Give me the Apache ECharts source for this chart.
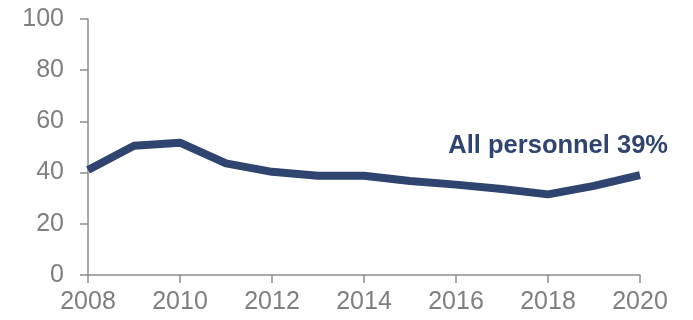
<!DOCTYPE html>
<html>
<head>
<meta charset="utf-8">
<script src="https://cdn.jsdelivr.net/npm/echarts@6/dist/echarts.min.js"></script>
<style>
  html, body { margin: 0; padding: 0; background: #fff; }
  #chart { width: 693px; height: 320px; }
</style>
</head>
<body>
<div id="chart"></div>
<script>
// Share of all personnel, by year (%)
const years = ['2008','2009','2010','2011','2012','2013','2014','2015','2016','2017','2018','2019','2020'];
const allPersonnel = [41, 50.5, 51.7, 43.6, 40.3, 38.8, 38.8, 36.7, 35.3, 33.6, 31.5, 34.8, 39];
const seriesName = 'All personnel';
const yTicks = { min: 0, max: 100, interval: 20 };

const navy = '#2f446e';
const axisGray = '#8c8c8c';
const labelGray = '#7f7f7f';
const font = 'Liberation Sans, Arial, sans-serif';

// Only the final year carries the series annotation
const lastIdx = allPersonnel.length - 1;
const lineData = allPersonnel.map((v, i) => {
  if (i !== lastIdx) return v;
  return {
    value: v,
    label: {
      show: true,
      position: 'inside',
      align: 'right',
      verticalAlign: 'middle',
      offset: [28, -29],
      formatter: (p) => seriesName + ' ' + Math.round(p.value) + '%',
      color: navy,
      fontFamily: font,
      fontWeight: 'bold',
      fontSize: 25.5
    }
  };
});

const chart = echarts.init(document.getElementById('chart'), null, { renderer: 'canvas' });
chart.setOption({
  animation: false,
  grid: { left: 88, right: 53, top: 19, bottom: 45, containLabel: false },
  xAxis: {
    type: 'category',
    data: years,
    boundaryGap: false,
    axisLine: { lineStyle: { color: axisGray, width: 1.5 } },
    axisTick: { show: true, interval: 1, length: 8, lineStyle: { color: axisGray, width: 1.5 } },
    axisLabel: {
      interval: 1,
      margin: 15,
      color: labelGray,
      fontFamily: font,
      fontSize: 25
    },
    splitLine: { show: false }
  },
  yAxis: {
    type: 'value',
    min: yTicks.min,
    max: yTicks.max,
    interval: yTicks.interval,
    axisLine: { show: true, lineStyle: { color: axisGray, width: 1.5 } },
    axisTick: { show: true, length: 8, lineStyle: { color: axisGray, width: 1.5 } },
    axisLabel: {
      margin: 24,
      color: labelGray,
      fontFamily: font,
      fontSize: 25
    },
    splitLine: { show: false }
  },
  series: [{
    name: seriesName,
    type: 'line',
    data: lineData,
    symbol: 'circle',
    symbolSize: 0,
    showSymbol: true,
    label: { show: false },
    lineStyle: { color: navy, width: 8, join: 'round' },
    itemStyle: { color: navy }
  }]
});
</script>
</body>
</html>
